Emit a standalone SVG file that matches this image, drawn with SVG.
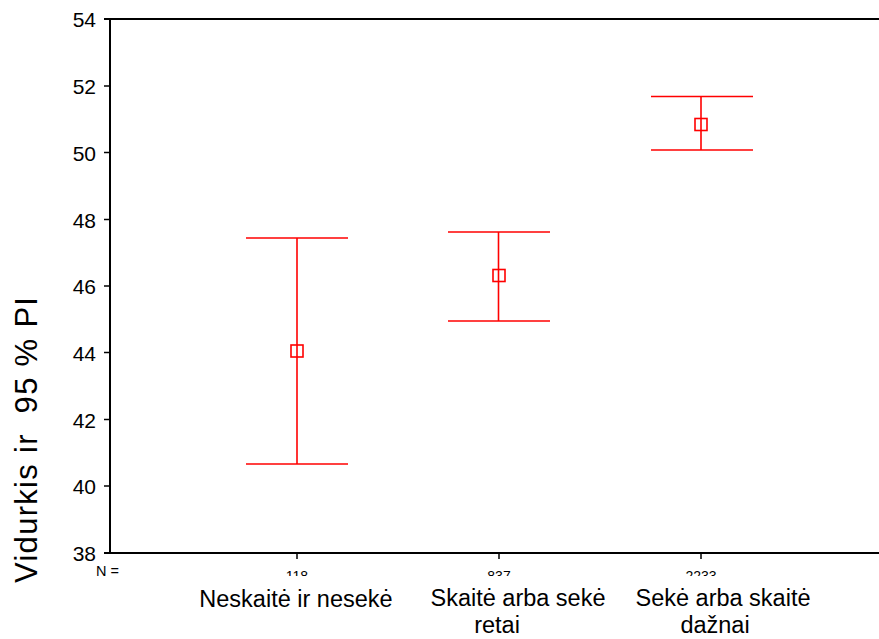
<svg xmlns="http://www.w3.org/2000/svg" width="879" height="639" viewBox="0 0 879 639">
<style>
.ax{stroke:#000;stroke-width:2;fill:none}
.tk{stroke:#000;stroke-width:1.5;fill:none}
.eb{stroke:#ff0000;stroke-width:1.6;fill:none}
.mk{stroke:#ff0000;stroke-width:1.6;fill:none}
.yl{font-family:"Liberation Sans",Arial,sans-serif;font-size:21px;fill:#000;text-anchor:end}
.cl{font-family:"Liberation Sans",Arial,sans-serif;font-size:23.5px;fill:#000;text-anchor:middle}
.nl{font-family:"Liberation Sans",Arial,sans-serif;font-size:14px;fill:#000;text-anchor:middle}
.tt{font-family:"Liberation Sans",Arial,sans-serif;font-size:31px;fill:#000;text-anchor:middle;white-space:pre}
</style>
<defs>
<clipPath id="nclip"><rect x="0" y="560" width="879" height="16"/></clipPath>
</defs>
<rect width="879" height="639" fill="#fff"/>
<g id="axes">
<line class="ax" x1="110" y1="19" x2="110" y2="553"/>
<line class="ax" x1="104" y1="19" x2="879" y2="19"/>
<line class="ax" x1="104" y1="553" x2="879" y2="553"/>
<g class="tk">
<line x1="104" y1="86" x2="110" y2="86"/>
<line x1="104" y1="152.5" x2="110" y2="152.5"/>
<line x1="104" y1="219.5" x2="110" y2="219.5"/>
<line x1="104" y1="286" x2="110" y2="286"/>
<line x1="104" y1="352.5" x2="110" y2="352.5"/>
<line x1="104" y1="419.5" x2="110" y2="419.5"/>
<line x1="104" y1="486" x2="110" y2="486"/>
<line x1="297" y1="553" x2="297" y2="559"/>
<line x1="499" y1="553" x2="499" y2="559"/>
<line x1="701" y1="553" x2="701" y2="559"/>
</g>
<text class="yl" x="96" y="27">54</text>
<text class="yl" x="96" y="94">52</text>
<text class="yl" x="96" y="160.5">50</text>
<text class="yl" x="96" y="227.5">48</text>
<text class="yl" x="96" y="294">46</text>
<text class="yl" x="96" y="360.5">44</text>
<text class="yl" x="96" y="427.5">42</text>
<text class="yl" x="96" y="494">40</text>
<text class="yl" x="96" y="561">38</text>
<text class="tt" transform="translate(37,440) rotate(-90)" textLength="286" lengthAdjust="spacing">Vidurkis ir  95 % PI</text>
</g>
<g id="n-labels">
<text x="96" y="576" font-family="Liberation Sans,Arial,sans-serif" font-size="14.5px" fill="#000">N =</text>
<g clip-path="url(#nclip)">
<text class="nl" x="297" y="581">118</text>
<text class="nl" x="499" y="581">837</text>
<text class="nl" x="701" y="581">2233</text>
</g>
</g>
<g id="cat1"><text class="cl" x="296" y="607">Neskaitė ir nesekė</text></g>
<g id="cat2"><text class="cl" x="518" y="606">Skaitė arba sekė</text><text class="cl" x="497" y="633">retai</text></g>
<g id="cat3"><text class="cl" x="723" y="606">Sekė arba skaitė</text><text class="cl" x="715" y="633">dažnai</text></g>
<g id="bar1">
<line class="eb" x1="297" y1="238" x2="297" y2="464"/>
<line class="eb" x1="246" y1="238" x2="348" y2="238"/>
<line class="eb" x1="246" y1="464" x2="348" y2="464"/>
<rect class="mk" x="291" y="345" width="12" height="12"/>
</g>
<g id="bar2">
<line class="eb" x1="498.5" y1="232" x2="498.5" y2="321"/>
<line class="eb" x1="448" y1="232" x2="550" y2="232"/>
<line class="eb" x1="448" y1="321" x2="550" y2="321"/>
<rect class="mk" x="493" y="269.5" width="12" height="12"/>
</g>
<g id="bar3">
<line class="eb" x1="701" y1="96.5" x2="701" y2="150"/>
<line class="eb" x1="651" y1="96.5" x2="753" y2="96.5"/>
<line class="eb" x1="651" y1="150" x2="753" y2="150"/>
<rect class="mk" x="695" y="118.5" width="12" height="12"/>
</g>
</svg>
